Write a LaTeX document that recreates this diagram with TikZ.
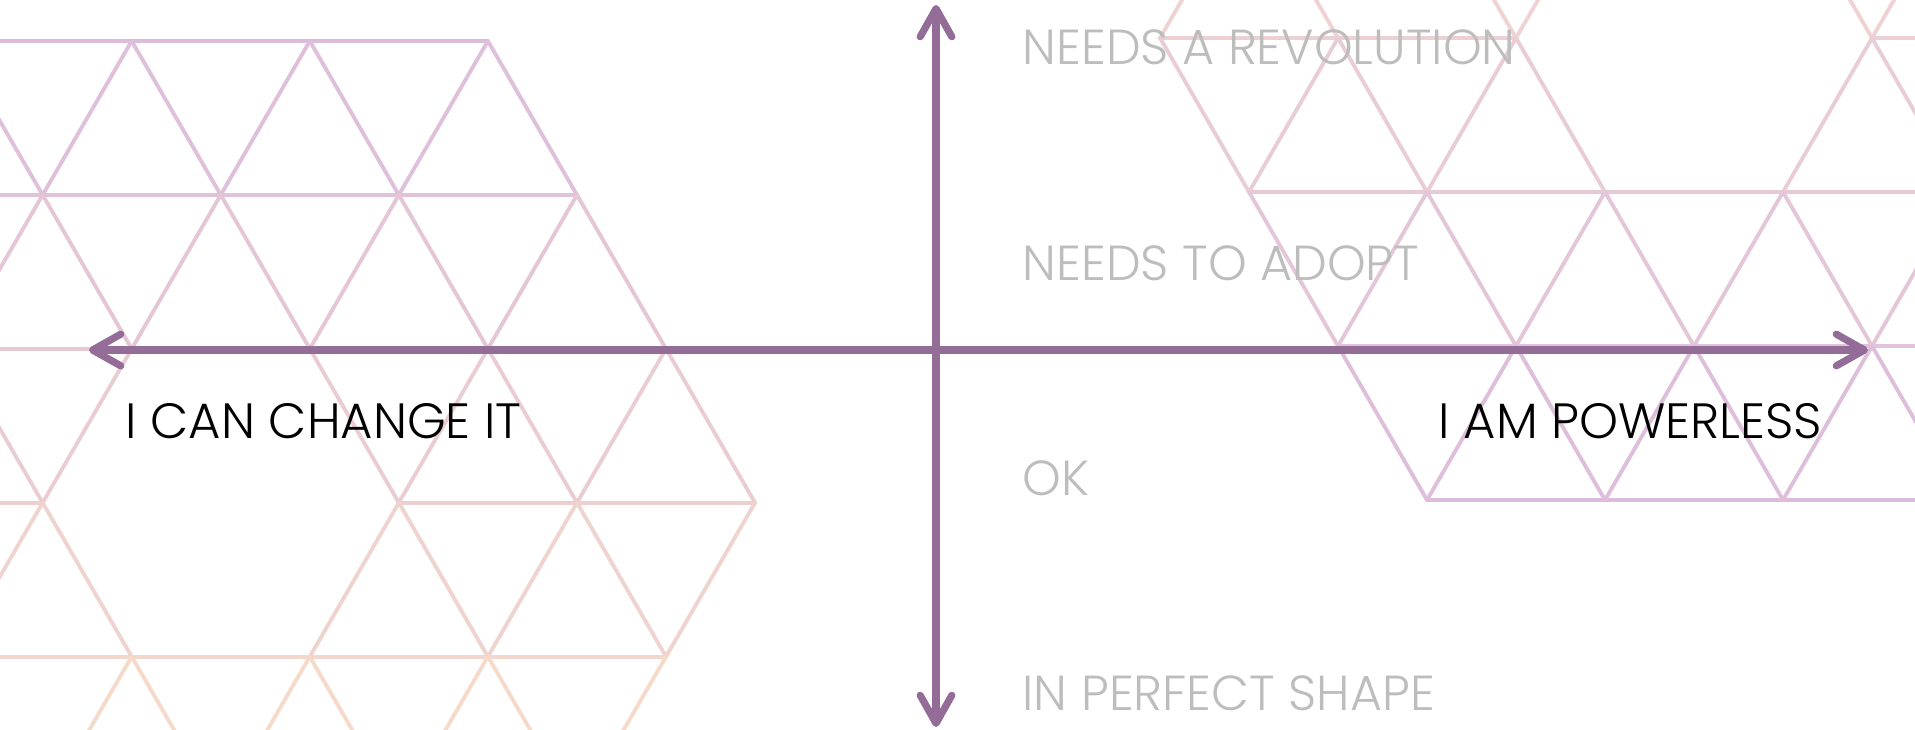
\documentclass[tikz,border=0pt]{standalone}
\usepackage{fontspec}
\IfFontExistsTF{Poppins Light}{\setmainfont{Poppins Light}}{\setmainfont{Poppins}}
\usepackage{tikz}
\usetikzlibrary{arrows.meta,positioning}
\definecolor{gridlav}{RGB}{219,188,221}
\definecolor{gridpeach}{RGB}{245,218,202}
\definecolor{gridrose}{RGB}{239,211,211}
\definecolor{axispurple}{RGB}{148,108,152}
\definecolor{labelgray}{RGB}{189,189,189}

\begin{document}
\begin{tikzpicture}[
    x=0.01cm, y=-0.01cm,
    gridline/.style={line width=1.1pt, line cap=round},
    axis/.style={
        line width=2.05pt, color=axispurple,
        {Straight Barb[length=8pt,width=9pt,round]}-{Straight Barb[length=8pt,width=9pt,round]}
    },
    side/.style={font=\fontsize{14.1}{16}\selectfont, text=black, inner sep=0pt},
    level/.style={font=\fontsize{14}{16}\selectfont, text=labelgray, inner sep=0pt}
]
    \useasboundingbox (0,0) rectangle (1915,729);
    \clip (0,0) rectangle (1915,729);

    % Left grid: rows and bands
    \foreach \r/\ka/\kb in {0/-2/4,1/-3/5,2/-2/6,3/-3/-1,3/3/7,4/-2/6} {
        \pgfmathtruncatemacro\pct{100-100*\r/4.5}
        \draw[gridline,color=gridlav!\pct!gridpeach]
            ({131.7+89.05*\ka},{41+153.9*\r}) -- ({131.7+89.05*\kb},{41+153.9*\r});
    }
    \foreach \r/\segs in {
        0/{-2/-1,0/1,2/3,4/5,0/-1,2/1,4/3},
        1/{-1/0,1/2,3/4,5/6,-1/-2,1/0,3/2,5/4},
        2/{-2/-1,2/3,4/5,6/7,0/-1,4/3,6/5},
        3/{-1/0,3/4,5/6,-1/-2,3/2,5/4,7/6},
        4/{0/1,2/3,4/5,0/-1,2/1,4/3,6/5}} {
        \pgfmathtruncatemacro\pct{100-100*(\r+0.5)/4.5}
        \foreach \a/\b in \segs
            \draw[gridline,color=gridlav!\pct!gridpeach]
                ({131.7+89.05*\a},{41+153.9*\r}) -- ({131.7+89.05*\b},{41+153.9*(\r+1)});
    }

    % Right grid: rows and bands
    \foreach \r/\ka/\kb in {0/-2/2,0/6/8,1/-1/8,2/0/8,3/1/8} {
        \pgfmathtruncatemacro\pct{100*(\r+0.5)/3.5}
        \draw[gridline,color=gridlav!\pct!gridrose]
            ({1338+89*\ka},{38+154*\r}) -- ({1338+89*\kb},{38+154*\r});
    }
    \foreach \r/\segs in {
        -1/{-1/-2,-1/0,1/2,3/2,5/6,7/6},
        0/{-2/-1,0/1,2/3,6/7,0/-1,2/1,6/5},
        1/{-1/0,1/2,3/4,5/6,7/8,1/0,3/2,5/4,7/6},
        2/{0/1,2/3,4/5,6/7,2/1,4/3,6/5}} {
        \pgfmathtruncatemacro\pct{100*(\r+1)/3.5}
        \foreach \a/\b in \segs
            \draw[gridline,color=gridlav!\pct!gridrose]
                ({1338+89*\a},{38+154*\r}) -- ({1338+89*\b},{38+154*(\r+1)});
    }

    % Axes
    \coordinate (xmin) at (89,350);
    \coordinate (xmax) at (1868,350);
    \coordinate (ymax) at (936,5);
    \coordinate (ymin) at (936,727);
    \draw[axis] (xmin) -- (xmax);
    \draw[axis] (ymin) -- (ymax);

    % Labels
    \node[side,anchor=base west] (can) at (125,438) {I CAN CHANGE IT};
    \node[side,anchor=base east] (powerless) at (1823,438) {I AM POWERLESS};
    \node[level,anchor=base west] (revolution) at (1022,64) {NEEDS A REVOLUTION};
    \node[level,below=2.16cm of revolution.base west,anchor=base west] (adopt) {NEEDS TO ADOPT};
    \node[level,below=2.15cm of adopt.base west,anchor=base west] (ok) {OK};
    \node[level,below=2.15cm of ok.base west,anchor=base west] (perfect) {IN PERFECT SHAPE};
\end{tikzpicture}
\end{document}
